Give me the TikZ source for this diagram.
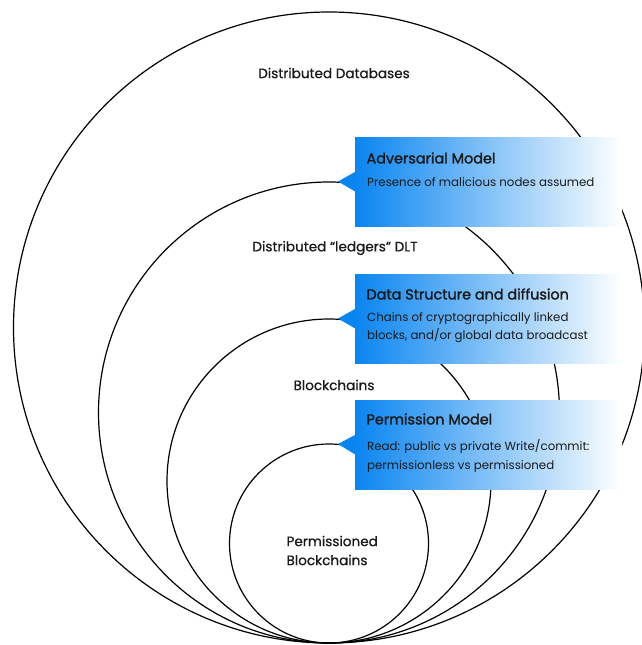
\documentclass[tikz,border=0pt]{standalone}
\usepackage{fontspec}
\setmainfont{Poppins}
\newfontfamily\semifont{Poppins}[FakeBold=1.6]
\newfontfamily\labelfont{Poppins}[FakeBold=0.7]
\usetikzlibrary{calc}
\definecolor{calloutblue}{RGB}{10,133,240}
\definecolor{inktext}{RGB}{26,26,26}
\begin{document}
\begin{tikzpicture}[x=1pt,y=-1pt,
  ring/.style={circle,draw=black,line width=1.2pt,inner sep=0pt},
  setlabel/.style={text=inktext,font=\labelfont\fontsize{13.6}{19}\selectfont,align=left},
  callout/.style={anchor=north west,minimum width=267pt,minimum height=89pt,
    inner sep=0pt,left color=calloutblue,right color=white,shading angle=90,draw=none},
  pointer/.style={fill=calloutblue,draw=none},
  ctitle/.style={anchor=west,text=inktext,font=\semifont\fontsize{14.4}{18}\selectfont},
  cbody/.style={anchor=north west,text=inktext,align=left,
    font=\fontsize{11.8}{18.2}\selectfont,inner sep=0pt}]
\useasboundingbox (0,0) rectangle (642,645);
\fill[white] (0,0) rectangle (642,645);

% nested sets, all touching at the bottom
\begin{scope}
\clip (0,0) rectangle (642,645);
\node[ring,minimum size=631pt] (dbs) at (329,327.5) {};
\node[ring,minimum size=461pt] (dlt) at (329,412.5) {};
\node[ring,minimum size=324pt] (bc)  at (329,481) {};
\node[ring,minimum size=199pt] (pbc) at (329,543.5) {};
\end{scope}

% set labels
\node[setlabel] (lbldbs) at (334,73) {Distributed Databases};
\node[setlabel] (lbldlt) at (335,248) {Distributed “ledgers” DLT};
\node[setlabel] (lblbc)  at (334,385) {Blockchains};
\node[setlabel,anchor=west] (lblpbc) at (283,550.5) {Permissioned\\Blockchains};

% callouts
\node[callout] (box1) at (355,137) {};
\node[callout] (box2) at (355,274) {};
\node[callout] (box3) at (355,400) {};

\coordinate (tip1) at (338,181.5);
\coordinate (tip2) at (338,318.5);
\coordinate (tip3) at (338,444);
\fill[pointer] ($(box1.west)+(0.5,-10)$) -- (tip1) -- ($(box1.west)+(0.5,10)$) -- cycle;
\fill[pointer] ($(box2.west)+(0.5,-10)$) -- (tip2) -- ($(box2.west)+(0.5,10)$) -- cycle;
\fill[pointer] ($(box3.west)+(0.5,-10)$) -- (tip3) -- ($(box3.west)+(0.5,10)$) -- cycle;

\node[ctitle] (t1) at (363,158) {Adversarial Model};
\node[cbody]  (b1) at (367,177.5) {Presence of malicious nodes assumed};

\node[ctitle] (t2) at (363,294) {Data Structure and diffusion};
\node[cbody]  (b2) at (367,312) {Chains of cryptographically linked\\blocks, and/or global data broadcast};

\node[ctitle] (t3) at (363,419) {Permission Model};
\node[cbody]  (b3) at (367,439.5) {Read: public vs private Write/commit:\\permissionless vs permissioned};
\end{tikzpicture}
\end{document}
